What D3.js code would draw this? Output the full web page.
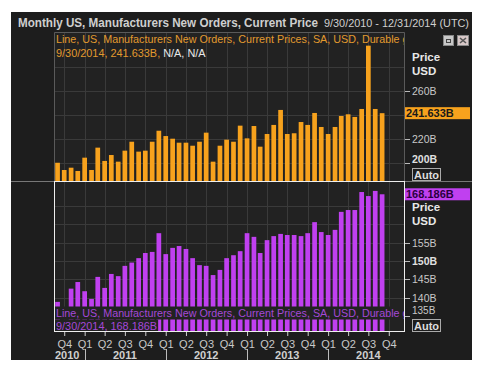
<!DOCTYPE html>
<meta charset="utf-8">
<script src="https://d3js.org/d3.v7.min.js"></script>
<style>body{margin:0;background:#fff}</style>
<div id="chart"></div>
<script>

var months = [
  "2010-09","2010-10","2010-11","2010-12",
  "2011-01","2011-02","2011-03","2011-04","2011-05","2011-06","2011-07","2011-08","2011-09","2011-10","2011-11","2011-12",
  "2012-01","2012-02","2012-03","2012-04","2012-05","2012-06","2012-07","2012-08","2012-09","2012-10","2012-11","2012-12",
  "2013-01","2013-02","2013-03","2013-04","2013-05","2013-06","2013-07","2013-08","2013-09","2013-10","2013-11","2013-12",
  "2014-01","2014-02","2014-03","2014-04","2014-05","2014-06","2014-07","2014-08","2014-09"
];

// top panel (orange), billions USD
var durable = [
  200.6,194.6,196.5,193.8,204.8,194.6,213.1,202.1,207.0,201.5,
  210.6,218.0,209.8,210.6,218.0,227.1,222.7,220.5,217.2,217.2,
  214.7,218.0,225.5,201.5,214.7,219.7,218.0,231.3,220.8,231.0,
  213.9,224.4,231.9,244.3,224.4,225.0,234.3,231.9,241.8,230.2,
  224.4,230.2,239.3,240.7,238.5,245.1,297.5,245.1,241.633
];

// bottom panel (purple), billions USD
var durable2 = [
  138.9,133.5,142.5,144.3,141.8,139.7,145.7,142.7,146.5,145.9,
  148.7,149.6,150.8,152.2,152.5,157.6,151.9,153.6,154.1,153.3,
  150.8,148.9,148.7,146.2,147.6,150.8,151.6,152.7,157.6,156.6,
  152.2,155.7,156.8,157.4,157.1,157.1,156.8,157.6,160.6,157.9,
  157.1,158.5,163.4,163.9,163.9,168.8,167.7,169.1,168.186
];

var quarterLabels = ["Q4","Q1","Q2","Q3","Q4","Q1","Q2","Q3","Q4","Q1","Q2","Q3","Q4","Q1","Q2","Q3","Q4"];
var years = ["2010","2011","2012","2013","2014"];
var topGrid = [200,220,240,260,280], topLabels = [200,220,260];
var botGrid = [135,140,145,150,155,160,165], botLabels = [135,140,145,150,155];
var boldLabels = [200,150];

var font = "'Liberation Sans', Arial, sans-serif";
var orange = "#f7a21d", purple = "#c040f0";
var txt = "#c8c8c8";

var parse = d3.timeParse("%Y-%m");
var dates = months.map(parse);

var svg = d3.select("#chart").append("svg")
    .attr("width", 482).attr("height", 374)
    .style("font-family", font);

svg.append("rect").attr("x", 11).attr("y", 12).attr("width", 461).attr("height", 348).attr("fill", "#1d1d1d");

var x = d3.scaleTime().domain([new Date(2010,7,16), new Date(2014,11,13)]).range([54,405]);
var yTop = d3.scaleLinear().domain([185.5,308.8]).range([181,32]);
var yBot = d3.scaleLinear().domain([130.7,171.8]).range([332,181]);
var quarters = d3.timeMonth.every(3).range(new Date(2010,9,1), new Date(2014,9,2));

// title
svg.append("text").attr("x", 18).attr("y", 26.5)
  .attr("font-size", 12).attr("font-weight", "bold").attr("fill", "#cfcfcf")
  .attr("textLength", 300).attr("lengthAdjust", "spacingAndGlyphs")
  .text("Monthly US, Manufacturers New Orders, Current Price");
svg.append("text").attr("x", 324).attr("y", 26.5)
  .attr("font-size", 11.2).attr("fill", "#cfcfcf")
  .attr("textLength", 145).attr("lengthAdjust", "spacingAndGlyphs")
  .text("9/30/2010 - 12/31/2014 (UTC)");

var defs = svg.append("defs");
defs.append("clipPath").attr("id", "clipTop").append("rect")
  .attr("x", 54).attr("y", 32).attr("width", 351).attr("height", 149);
defs.append("clipPath").attr("id", "clipBot").append("rect")
  .attr("x", 54).attr("y", 181).attr("width", 351).attr("height", 151);

function panel(y, data, grid, color, clip) {
  var r = y.range();
  var g = svg.append("g").attr("clip-path", "url(#" + clip + ")");
  g.append("rect").attr("x", 54).attr("y", r[1]).attr("width", 351).attr("height", r[0] - r[1]).attr("fill", "#222");
  g.selectAll(".hg").data(grid).enter().append("line")
    .attr("x1", 54).attr("x2", 405)
    .attr("y1", function(d) { return Math.round(y(d)) + 0.5; })
    .attr("y2", function(d) { return Math.round(y(d)) + 0.5; })
    .attr("stroke", "#3a3a3a");
  g.selectAll(".vg").data(quarters).enter().append("line")
    .attr("y1", r[1]).attr("y2", r[0])
    .attr("x1", function(d) { return Math.round(x(d)) + 0.5; })
    .attr("x2", function(d) { return Math.round(x(d)) + 0.5; })
    .attr("stroke", "#3a3a3a");
  g.selectAll(".bar").data(data).enter().append("rect")
    .attr("x", function(d, i) { return x(dates[i]) - 2.35; })
    .attr("width", 4.7)
    .attr("y", function(d) { return y(d); })
    .attr("height", function(d) { return r[0] - y(d); })
    .attr("fill", color);
  return g;
}

var legendText = "Line, US, Manufacturers New Orders, Current Prices, SA, USD, Durable goods";

// top panel
var gt = panel(yTop, durable, topGrid, orange, "clipTop");
svg.append("path").attr("d", "M54.5,181V32.5H404.5V181").attr("fill", "none").attr("stroke", "#5a5a5a");
gt.append("text").attr("font-size", 10.75).attr("fill", "#e39a2e").attr("x", 56).attr("y", 43)
  .text(legendText);
var lt2 = gt.append("text").attr("font-size", 10.9).attr("x", 56).attr("y", 57);
lt2.append("tspan").attr("fill", "#e39a2e").text("9/30/2014, " + d3.format(".3f")(durable[durable.length-1]) + "B, ");
lt2.append("tspan").attr("fill", "#e8e8e8").text("N/A, N/A");

// bottom panel
var gb = panel(yBot, durable2, botGrid, purple, "clipBot");
gb.append("rect").attr("x", 54).attr("y", 306.5).attr("width", 351).attr("height", 13).attr("fill", "#222");
gb.append("text").attr("font-size", 10.75).attr("fill", "#a548d8").attr("x", 56).attr("y", 316.5)
  .text(legendText);
var bgLeg = gb.append("rect").attr("x", 54).attr("y", 319.5).attr("height", 12.5).attr("fill", "#222");
var lb2 = gb.append("text").attr("font-size", 10.9).attr("fill", "#a548d8").attr("x", 56).attr("y", 330)
  .text("9/30/2014, " + d3.format(".3f")(durable2[durable2.length-1]) + "B");
bgLeg.attr("width", lb2.node().getComputedTextLength() + 3);

svg.append("line").attr("x1", 11).attr("x2", 472).attr("y1", 181.5).attr("y2", 181.5).attr("stroke", "#777");
svg.append("rect").attr("x", 54.5).attr("y", 181.5).attr("width", 350).attr("height", 150)
  .attr("fill", "none").attr("stroke", "#eee");

// right axes
function rightAxis(y, labels) {
  var lo = d3.min(labels);
  svg.selectAll(null).data(labels).enter().append("line")
    .attr("x1", 405).attr("x2", 410)
    .attr("y1", function(d) { return Math.round(y(d)) + 0.5; })
    .attr("y2", function(d) { return Math.round(y(d)) + 0.5; })
    .attr("stroke", "#bbb");
  svg.selectAll(null).data(labels).enter().append("text")
    .attr("x", 412)
    .attr("y", function(d) { return y(d) + 4 - (d === lo ? (y === yTop ? 4 : 6) : 0); })
    .attr("font-size", function(d) { return d === lo && y === yBot ? 10 : 10.5; })
    .attr("font-weight", function(d) { return boldLabels.indexOf(d) >= 0 ? "bold" : "normal"; })
    .attr("fill", function(d) { return boldLabels.indexOf(d) >= 0 ? "#e0e0e0" : txt; })
    .text(function(d) { return d + "B"; });
}
rightAxis(yTop, topLabels);
rightAxis(yBot, botLabels);

[[61, 75], [211, 225]].forEach(function(p) {
  svg.append("text").attr("x", 412).attr("y", p[0]).attr("font-size", 11.5).attr("font-weight", "bold").attr("fill", "#e8e8e8").text("Price");
  svg.append("text").attr("x", 412).attr("y", p[1]).attr("font-size", 11.5).attr("font-weight", "bold").attr("fill", "#e8e8e8").text("USD");
});

[168.5, 319.5].forEach(function(yy) {
  svg.append("rect").attr("x", 412.5).attr("y", yy).attr("width", 28).attr("height", 12)
    .attr("fill", "none").attr("stroke", "#aaa");
  svg.append("text").attr("x", 414).attr("y", yy + 10).attr("font-size", 11).attr("font-weight", "bold")
    .attr("fill", "#ddd").text("Auto");
});

// last value boxes
function valueBox(y, v, fill, color) {
  svg.append("rect").attr("x", 405).attr("y", y(v) - 6).attr("width", 65).attr("height", 12).attr("fill", fill);
  svg.append("text").attr("x", 406).attr("y", y(v) + 4).attr("font-size", 11).attr("font-weight", "bold")
    .attr("fill", color).text(d3.format(".3f")(v) + "B");
}
valueBox(yTop, durable[durable.length-1], orange, "#1a1a1a");
valueBox(yBot, durable2[durable2.length-1], purple, "#2a0040");

// window icons
svg.append("rect").attr("x", 443.5).attr("y", 35.5).attr("width", 10).attr("height", 10).attr("fill", "#c8c8c8").attr("stroke", "#888");
svg.append("rect").attr("x", 446.5).attr("y", 39.5).attr("width", 4).attr("height", 3).attr("fill", "none").attr("stroke", "#444");
svg.append("rect").attr("x", 457.5).attr("y", 35.5).attr("width", 11).attr("height", 10).attr("fill", "#d8c8c8").attr("stroke", "#888");
svg.append("path").attr("d", "M460,38L466,43M466,38L460,43").attr("stroke", "#555").attr("stroke-width", 1.6);

// x axis
var xa = svg.append("g").attr("transform", "translate(0,332)")
  .call(d3.axisBottom(x).tickValues(quarters).tickSize(4).tickPadding(4)
    .tickFormat(function(d, i) { return quarterLabels[i]; }));
xa.select(".domain").remove();
xa.selectAll("line").attr("stroke", "#ccc");
xa.selectAll("text").attr("fill", txt).attr("font-size", 11).attr("font-family", font);

var yearStarts = years.map(function(y) { return new Date(+y, 0, 1); });
svg.selectAll(null).data(yearStarts.slice(1)).enter().append("line")
  .attr("x1", function(d) { return Math.round(x(d)) + 0.5; })
  .attr("x2", function(d) { return Math.round(x(d)) + 0.5; })
  .attr("y1", 349).attr("y2", 360).attr("stroke", "#bbb");
svg.selectAll(null).data(years).enter().append("text")
  .attr("x", function(d, i) { return i === 0 ? 55 : x(new Date(+d, 6, 1)); })
  .attr("text-anchor", function(d, i) { return i === 0 ? "start" : "middle"; })
  .attr("y", 358.5).attr("font-size", 11).attr("font-weight", "bold").attr("fill", "#d0d0d0")
  .text(function(d) { return d; });

</script>
